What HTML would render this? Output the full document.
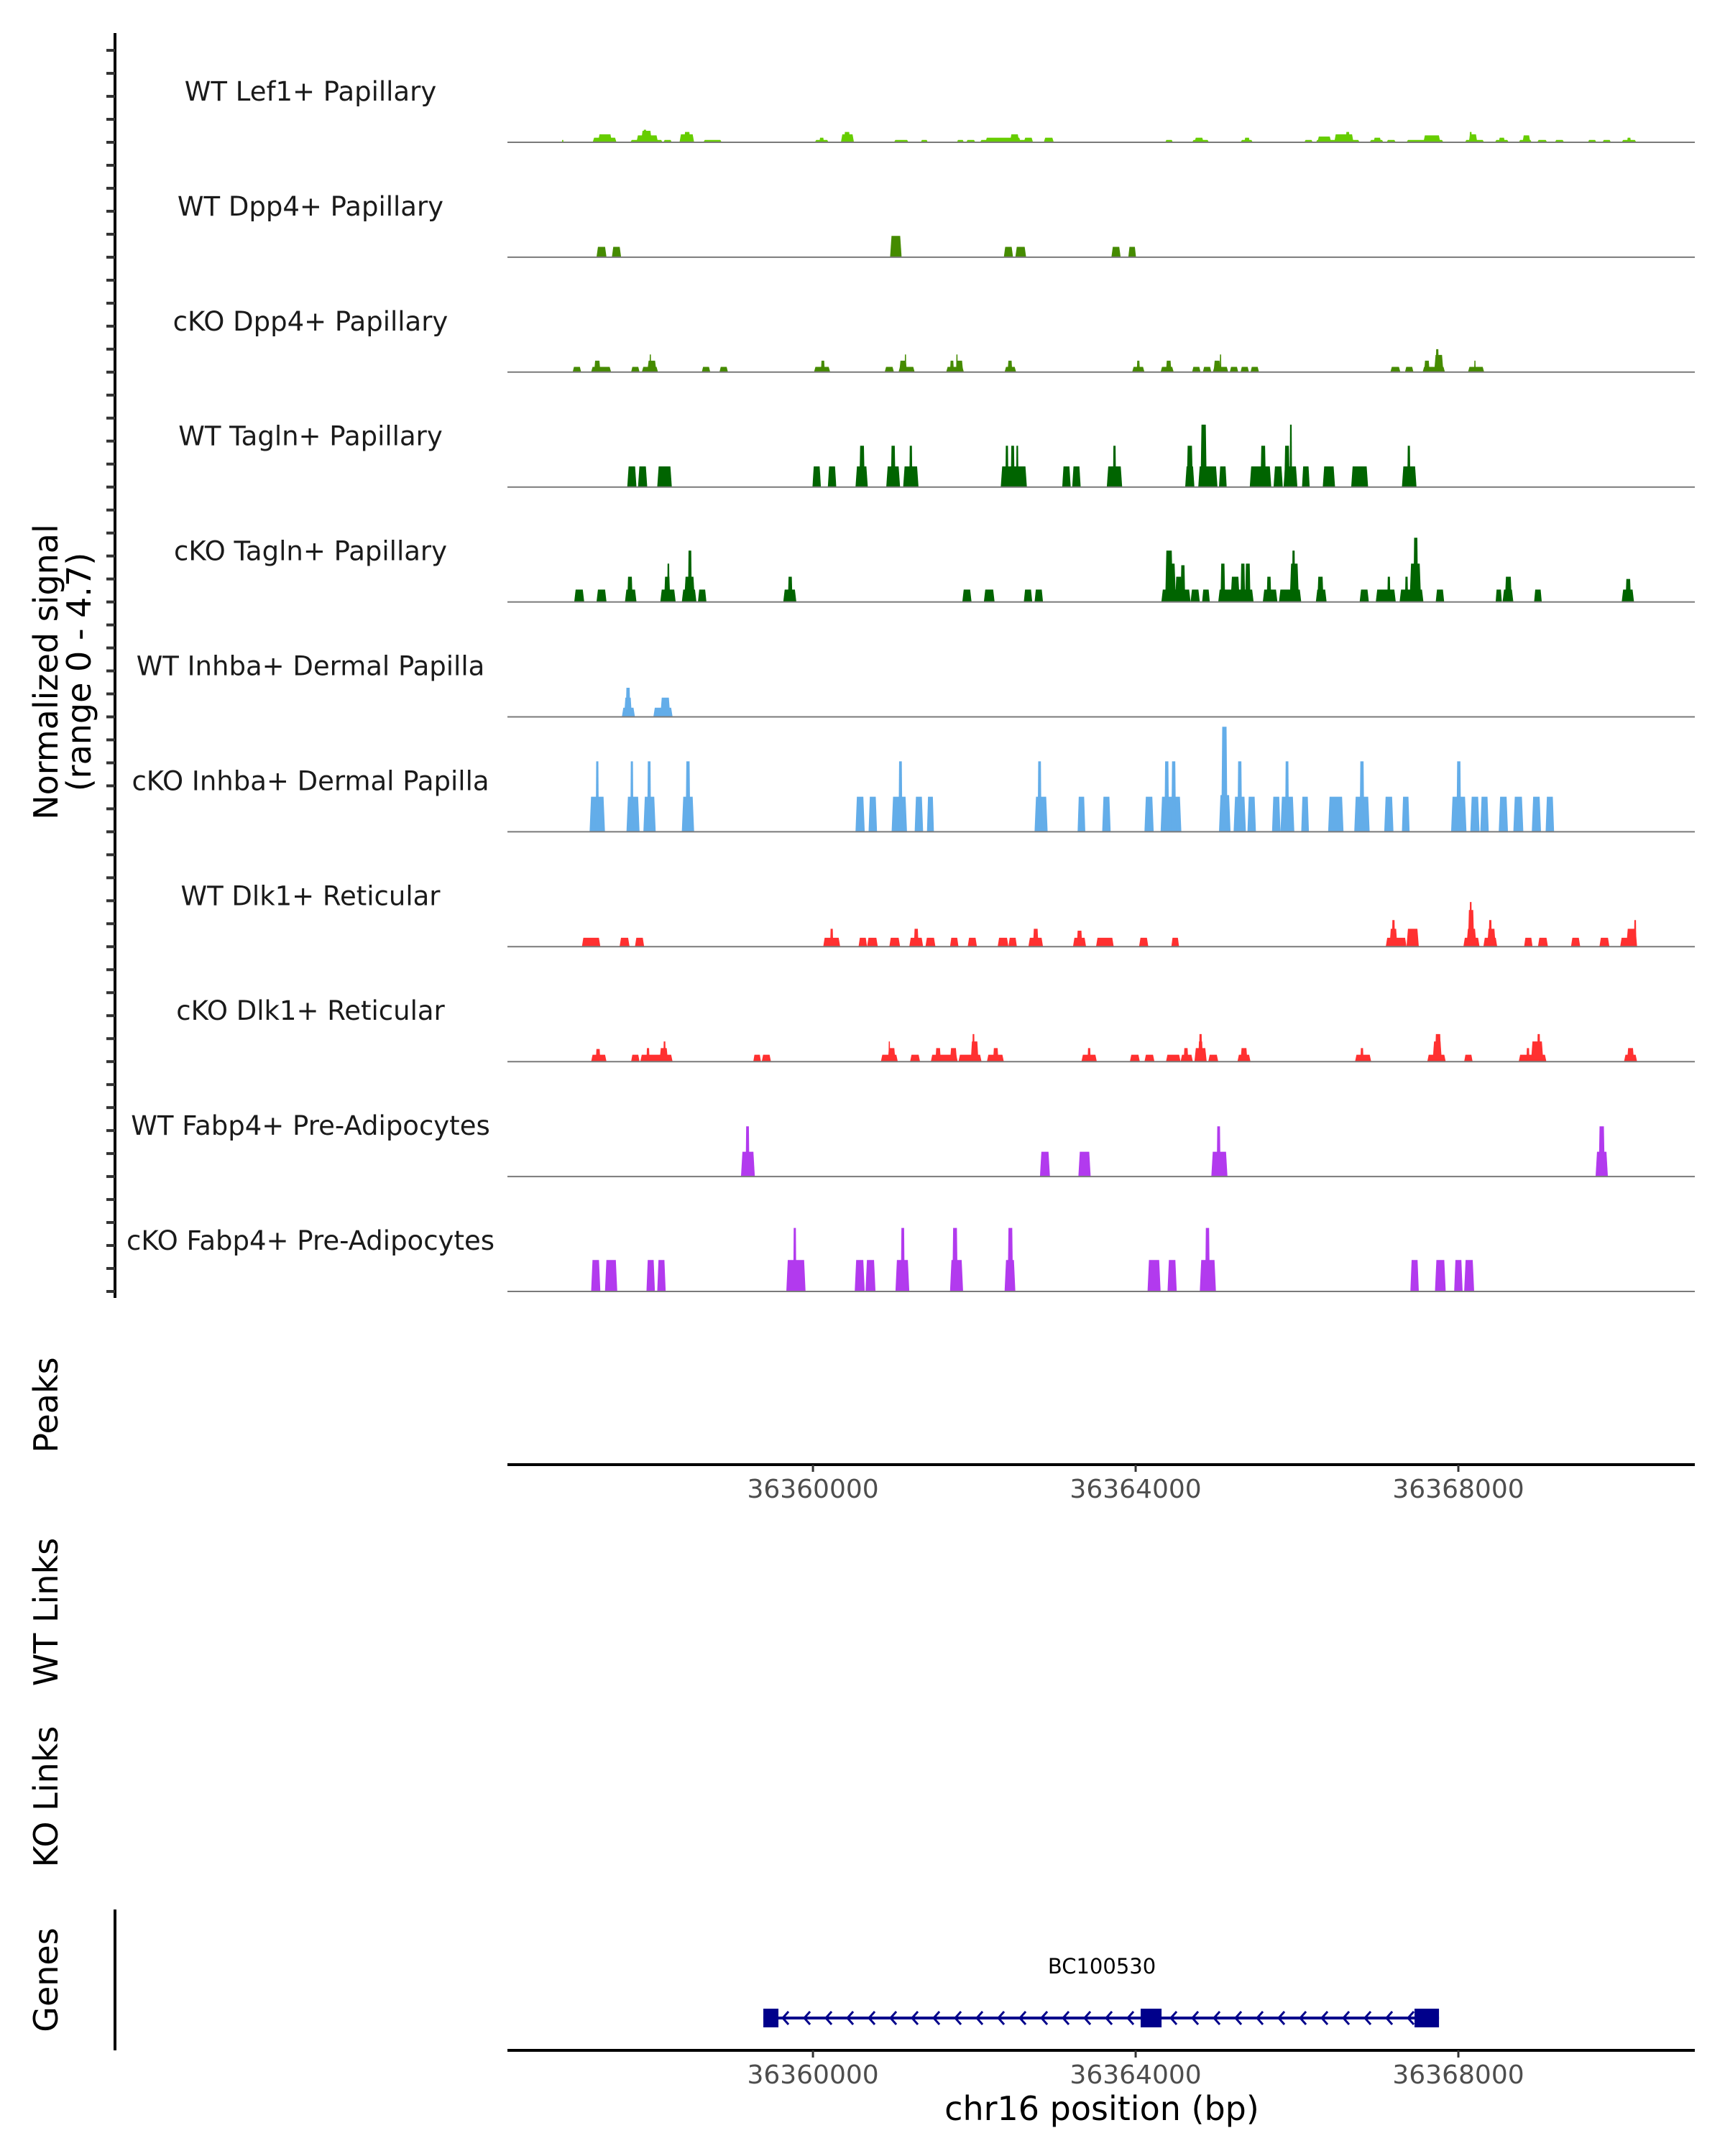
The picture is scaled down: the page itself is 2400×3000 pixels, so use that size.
<!DOCTYPE html>
<html>
<head>
<meta charset="utf-8">
<style>
html,body{margin:0;padding:0;background:#fff;}
svg{display:block;}
text{font-family:"DejaVu Sans","Liberation Sans",sans-serif;}
</style>
</head>
<body>
<svg id="chart" xmlns="http://www.w3.org/2000/svg" width="2400" height="3000" viewBox="0 0 2400 3000">
  <rect x="0" y="0" width="2400" height="3000" fill="#ffffff"/>
  <g id="left-axis"></g>
  <g id="tracks"></g>
  <g id="axes"></g>
  <g id="genes"></g>
  <text transform="translate(80,935) rotate(-90)" text-anchor="middle" font-size="46" fill="#000">Normalized signal</text>
  <text transform="translate(126,935) rotate(-90)" text-anchor="middle" font-size="46" fill="#000">(range 0 - 4.7)</text>
  <text transform="translate(80,1955) rotate(-90)" text-anchor="middle" font-size="46" fill="#000">Peaks</text>
  <text transform="translate(80,2243) rotate(-90)" text-anchor="middle" font-size="46" fill="#000">WT Links</text>
  <text transform="translate(80,2500) rotate(-90)" text-anchor="middle" font-size="46" fill="#000">KO Links</text>
  <text transform="translate(80,2755) rotate(-90)" text-anchor="middle" font-size="46" fill="#000">Genes</text>
  <text x="1533" y="2950" text-anchor="middle" font-size="46" fill="#000">chr16 position (bp)</text>
</svg>
<script>
// ---- data ----
const regionStart = 36356174;   // bp of bin 0
const binSize = 9.526;          // bp per coverage bin
const yMax = 4.7;
const trackNames = ["WT Lef1+ Papillary","WT Dpp4+ Papillary","cKO Dpp4+ Papillary","WT Tagln+ Papillary","cKO Tagln+ Papillary","WT Inhba+ Dermal Papilla","cKO Inhba+ Dermal Papilla","WT Dlk1+ Reticular","cKO Dlk1+ Reticular","WT Fabp4+ Pre-Adipocytes","cKO Fabp4+ Pre-Adipocytes"];
const trackColors = ["#66cd00","#458b00","#458b00","#006400","#006400","#63ade9","#63ade9","#ff3030","#ff3030","#b23aee","#b23aee"];
// peaks: [startBin, endBin, signal]
const lef1WT = [[75,77,0.1],[115,146,0.2],[122,140,0.35],[164,206,0.1],[172,200,0.3],[178,192,0.5],[181,185,0.55],[207,218,0.1],[228,247,0.35],[234,242,0.45],[259,283,0.1],[404,422,0.1],[410,416,0.2],[438,455,0.35],[442,450,0.45],[507,526,0.1],[542,551,0.1],[589,598,0.1],[601,613,0.1],[619,688,0.1],[626,672,0.2],[658,670,0.35],[676,688,0.2],[702,715,0.2],[860,870,0.1],[895,917,0.1],[898,910,0.2],[958,974,0.1],[963,970,0.2],[1041,1052,0.1],[1056,1113,0.1],[1058,1076,0.25],[1080,1105,0.35],[1095,1100,0.45],[1126,1144,0.1],[1131,1141,0.2],[1148,1160,0.1],[1174,1222,0.1],[1196,1218,0.3],[1250,1275,0.1],[1255,1266,0.35],[1256,1259,0.45],[1289,1307,0.1],[1294,1302,0.2],[1320,1337,0.1],[1325,1335,0.3],[1344,1357,0.1],[1367,1379,0.1],[1410,1421,0.1],[1429,1440,0.1],[1454,1473,0.1],[1461,1466,0.2]];
const dpp4WT = [[120,133,0.45],[140,152,0.45],[502,517,0.93],[650,662,0.45],[665,679,0.45],[790,802,0.45],[812,822,0.45]];
const dpp4KO = [[89,100,0.23],[113,139,0.23],[117,125,0.5],[165,176,0.23],[179,200,0.23],[186,198,0.5],[189,191,0.77],[257,268,0.23],[280,291,0.23],[403,424,0.23],[412,417,0.5],[495,507,0.23],[513,534,0.23],[514,524,0.5],[521,523,0.77],[575,598,0.23],[580,585,0.5],[588,597,0.5],[588,590,0.77],[651,666,0.23],[655,661,0.5],[817,833,0.23],[823,827,0.5],[854,871,0.23],[861,868,0.5],[895,906,0.23],[909,920,0.23],[922,942,0.23],[923,932,0.5],[931,933,0.77],[944,955,0.23],[958,969,0.23],[971,982,0.23],[1153,1166,0.23],[1172,1183,0.23],[1195,1224,0.23],[1197,1204,0.5],[1210,1222,0.75],[1212,1216,1.0],[1254,1275,0.23],[1262,1264,0.5]];
const taglnWT = [[160,172,0.9],[174,186,0.9],[199,218,0.9],[401,412,0.9],[421,432,0.9],[457,473,0.9],[462,469,1.8],[497,515,0.9],[503,509,1.8],[519,539,0.9],[527,531,1.8],[646,680,0.9],[652,656,1.8],[659,664,1.8],[666,669,1.8],[726,737,0.9],[739,750,0.9],[784,804,0.9],[792,796,1.8],[886,898,0.9],[888,896,1.8],[903,928,0.9],[906,914,2.72],[930,940,0.9],[970,998,0.9],[984,991,1.8],[1001,1013,0.9],[1014,1032,0.9],[1015,1022,1.8],[1022,1025,2.72],[1038,1048,0.9],[1065,1081,0.9],[1102,1124,0.9],[1168,1187,0.9],[1175,1179,1.8]];
const taglnKO = [[91,104,0.54],[120,133,0.54],[157,172,0.54],[160,167,1.1],[203,223,0.54],[208,216,1.1],[212,215,1.67],[231,250,0.54],[234,248,1.1],[239,244,2.24],[252,263,0.54],[363,380,0.54],[369,375,1.1],[596,608,0.54],[624,638,0.54],[676,687,0.54],[690,701,0.54],[855,893,0.54],[860,870,2.24],[862,874,1.67],[873,882,1.1],[880,886,1.6],[893,905,0.54],[908,918,0.54],[929,975,0.54],[932,938,1.67],[945,957,1.1],[958,964,1.67],[964,971,1.67],[987,1006,0.54],[992,998,1.1],[1008,1037,0.54],[1022,1034,1.67],[1025,1029,2.24],[1056,1070,0.54],[1058,1066,1.1],[1113,1125,0.54],[1134,1160,0.54],[1149,1153,1.1],[1165,1196,0.54],[1172,1176,1.1],[1178,1193,1.67],[1183,1189,2.8],[1212,1223,0.54],[1290,1298,0.54],[1299,1313,0.54],[1302,1311,1.1],[1340,1350,0.54],[1454,1470,0.54],[1459,1466,1.0]];
const inhbaWT = [[153,170,0.4],[156,166,0.84],[158,164,1.27],[194,219,0.4],[203,216,0.84]];
const inhbaKO = [[111,131,1.53],[119,123,3.07],[159,176,1.53],[164,168,3.07],[181,197,1.53],[186,191,3.07],[231,247,1.53],[236,242,3.07],[457,469,1.53],[474,485,1.53],[504,524,1.53],[513,518,3.07],[534,545,1.53],[550,559,1.53],[690,707,1.53],[694,699,3.07],[746,756,1.53],[778,789,1.53],[833,845,1.53],[854,881,1.53],[859,865,3.07],[868,874,3.07],[930,945,1.6],[933,941,4.58],[949,965,1.53],[954,960,3.07],[967,978,1.53],[999,1010,1.53],[1010,1028,1.53],[1016,1021,3.07],[1037,1047,1.53],[1072,1092,1.53],[1106,1126,1.53],[1113,1119,3.07],[1145,1157,1.53],[1168,1178,1.53],[1232,1252,1.53],[1239,1245,3.07],[1257,1269,1.53],[1270,1281,1.53],[1294,1306,1.53],[1313,1326,1.53],[1337,1349,1.53],[1355,1366,1.53]];
const dlk1WT = [[101,125,0.39],[150,163,0.39],[170,182,0.39],[415,437,0.39],[424,428,0.78],[461,472,0.39],[472,486,0.39],[501,515,0.39],[527,545,0.39],[533,539,0.78],[548,561,0.39],[580,591,0.39],[603,615,0.39],[642,656,0.39],[656,667,0.39],[682,701,0.39],[688,695,0.78],[740,757,0.39],[745,752,0.7],[770,793,0.39],[826,838,0.39],[868,878,0.39],[1147,1174,0.39],[1152,1162,0.78],[1155,1159,1.16],[1174,1190,0.78],[1248,1269,0.39],[1252,1265,0.78],[1254,1262,1.6],[1256,1259,1.95],[1274,1292,0.39],[1279,1290,0.78],[1281,1285,1.16],[1327,1338,0.39],[1345,1358,0.39],[1388,1400,0.39],[1425,1438,0.39],[1452,1474,0.39],[1460,1474,0.78],[1470,1473,1.16]];
const dlk1KO = [[113,133,0.3],[119,125,0.55],[165,176,0.3],[177,219,0.3],[185,189,0.59],[202,213,0.59],[207,210,0.88],[324,334,0.3],[335,347,0.3],[490,512,0.3],[499,509,0.59],[500,502,0.88],[528,541,0.3],[555,590,0.3],[561,568,0.59],[580,589,0.59],[591,621,0.3],[607,617,0.88],[609,612,1.2],[628,650,0.3],[636,643,0.59],[751,771,0.3],[759,763,0.59],[814,827,0.3],[833,846,0.3],[861,880,0.3],[880,896,0.3],[884,890,0.59],[898,914,0.59],[903,909,0.88],[904,908,1.2],[916,929,0.3],[954,971,0.3],[958,967,0.59],[1107,1128,0.3],[1114,1118,0.59],[1201,1225,0.3],[1208,1220,0.88],[1211,1219,1.2],[1249,1260,0.3],[1320,1356,0.3],[1330,1334,0.59],[1336,1352,0.88],[1344,1348,1.2],[1457,1474,0.3],[1461,1470,0.59]];
const fabp4WT = [[308,326,1.08],[314,319,2.19],[697,710,1.08],[747,763,1.08],[920,941,1.08],[927,932,2.19],[1420,1436,1.08],[1424,1432,2.19]];
const fabp4KO = [[113,125,1.37],[131,147,1.37],[185,196,1.37],[199,210,1.37],[367,392,1.37],[376,380,2.77],[456,469,1.37],[470,483,1.37],[509,527,1.37],[516,521,2.77],[580,597,1.37],[583,590,2.77],[651,665,1.37],[655,662,2.77],[837,854,1.37],[863,875,1.37],[905,926,1.37],[912,918,2.77],[1179,1190,1.37],[1211,1225,1.37],[1236,1247,1.37],[1249,1262,1.37]];
const trackPeaks = [lef1WT,dpp4WT,dpp4KO,taglnWT,taglnKO,inhbaWT,inhbaKO,dlk1WT,dlk1KO,fabp4WT,fabp4KO];
const xTicks = [36360000,36364000,36368000];
const xTickLabels = ["36360000","36364000","36368000"];
const geneName = "BC100530";
const geneStart = 36359385, geneEnd = 36367760;
const geneExons = [[36359385,36359572],[36364062,36364321],[36367457,36367760]];

// ---- scales ----
const NS = "http://www.w3.org/2000/svg";
const plotLeft = 706, plotRight = 2358;
const bpLeft = 36356213, bpRight = 36370931;
function xPos(bp){ return plotLeft + (bp - bpLeft)/(bpRight - bpLeft)*(plotRight - plotLeft); }
function binToBp(b){ return regionStart + b*binSize; }
const trackTop0 = 198, trackStep = 159.9, trackH = 150;
function baseY(i){ return trackTop0 + i*trackStep; }
function yPos(i, v){ return baseY(i) - v/yMax*trackH; }
function mk(tag, attrs, parent){ const e=document.createElementNS(NS,tag); for(const k in attrs) e.setAttribute(k,attrs[k]); parent.appendChild(e); return e; }

// ---- left axis ----
const la = document.getElementById('left-axis');
const axLine = mk('line',{x1:160,y1:46,x2:160,y2:1806,stroke:'#000','stroke-width':4},la);


for(let i=0;i<trackNames.length;i++){
  for(let j=0;j<5;j++){
    const y = baseY(i) - j*trackStep/5;
    const t = mk('line',{x1:148,y1:y,x2:160,y2:y,stroke:'#333','stroke-width':4},la);
    
    
  }
}
const ga = mk('line',{x1:160,y1:2657,x2:160,y2:2853,stroke:'#000','stroke-width':4},la);



// ---- tracks ----
const tg = document.getElementById('tracks');
trackPeaks.forEach((peaks,i)=>{
  const g = mk('g',{},tg);
  
  
  const lab = mk('text',{x:432,y:baseY(i)-58,'text-anchor':'middle','font-size':37,fill:'#1a1a1a'},g);
  lab.textContent = trackNames[i];
  
  
  peaks.forEach(p=>{
    const x1 = xPos(binToBp(p[0])), x2 = xPos(binToBp(p[1]));
    const w = x2-x1, ins = Math.min(2, w*0.15);
    const y0 = baseY(i), y1 = yPos(i,p[2]);
    const poly = mk('polygon',{points:`${x1},${y0} ${x1+ins},${y1} ${x2-ins},${y1} ${x2},${y0}`,fill:trackColors[i]},g);
    
    
  });
  const bl = mk('line',{x1:plotLeft,y1:baseY(i),x2:plotRight,y2:baseY(i),stroke:'#7a7a7a','stroke-width':2},g);
  
  
});

// ---- x axes ----
const ax = document.getElementById('axes');
[[2038,2084],[2853,2899]].forEach(([ay,ly],k)=>{
  const l = mk('line',{x1:plotLeft,y1:ay,x2:plotRight,y2:ay,stroke:'#000','stroke-width':4},ax);
  
  
  xTicks.forEach((t,j)=>{
    const x = xPos(t);
    const tk = mk('line',{x1:x,y1:ay,x2:x,y2:ay+10,stroke:'#333','stroke-width':3},ax);
    
    
    const tl = mk('text',{x:x,y:ly,'text-anchor':'middle','font-size':36,fill:'#4d4d4d'},ax);
    tl.textContent = xTickLabels[j];
    
    
  });
});

// ---- gene ----
const gg = document.getElementById('genes');
const gy = 2808, gcol = '#00008b';
const gl = mk('line',{x1:xPos(geneStart),y1:gy,x2:xPos(geneEnd),y2:gy,stroke:gcol,'stroke-width':4},gg);


for(let x=xPos(geneStart)+30; x<xPos(geneEnd)-20; x+=30){
  const c = mk('polyline',{points:`${x+5},${gy-9} ${x-3},${gy} ${x+5},${gy+9}`,fill:'none',stroke:gcol,'stroke-width':3},gg);
  
  
}
geneExons.forEach(e=>{
  const x1=xPos(e[0]), x2=xPos(e[1]);
  const r = mk('rect',{x:x1,y:gy-13,width:x2-x1,height:26,fill:gcol},gg);
  
  
});
const gn = mk('text',{x:1533,y:2746,'text-anchor':'middle','font-size':29,fill:'#000'},gg);
gn.textContent = geneName;


</script>
</body>
</html>
